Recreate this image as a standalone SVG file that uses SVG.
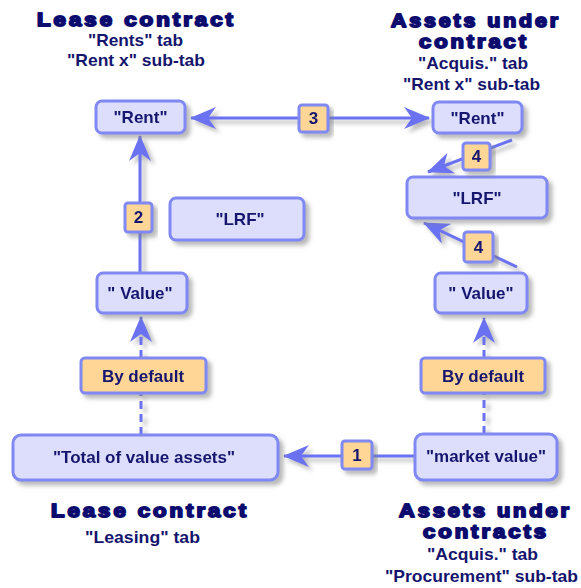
<svg xmlns="http://www.w3.org/2000/svg" width="581" height="588" viewBox="0 0 581 588">
<defs>
<filter id="sh" x="-20%" y="-30%" width="140%" height="170%">
<feGaussianBlur in="SourceAlpha" stdDeviation="2"/>
<feOffset dx="4" dy="4" result="b"/>
<feFlood flood-color="#808080" flood-opacity="0.55"/>
<feComposite in2="b" operator="in"/>
<feMerge><feMergeNode/><feMergeNode in="SourceGraphic"/></feMerge>
</filter>
<marker id="ah" markerUnits="userSpaceOnUse" viewBox="0 0 26 22" refX="25" refY="11" markerWidth="26" markerHeight="22" orient="auto-start-reverse">
<path d="M26,11 L0,0 L8,11 L0,22 Z" fill="#6a72f2"/>
</marker>
</defs>
<style>
.node rect{fill:#dcdefc;stroke:#8088f2;stroke-width:3;}
.lab rect{fill:#ffd696;stroke:#8088f2;stroke-width:3;}
.node text,.lab text{font-family:"Liberation Sans",Arial,sans-serif;font-weight:bold;font-size:17px;fill:#15156e;text-anchor:middle;}
.title{font-family:"Liberation Sans",Arial,sans-serif;font-weight:bold;font-size:18.5px;fill:#0c0c6e;stroke:#0c0c6e;stroke-width:1.8;stroke-linejoin:round;text-anchor:middle;letter-spacing:2.5px;}
.sub{font-family:"Liberation Sans",Arial,sans-serif;font-weight:bold;font-size:17px;fill:#15156e;text-anchor:middle;}
.c{fill:none;stroke:#6a72f2;stroke-width:3;}
.d{fill:none;stroke:#6a72f2;stroke-width:3;stroke-dasharray:8 5;}
</style>

<g id="titles">
<text class="title" x="136.5" y="26" textLength="199" lengthAdjust="spacingAndGlyphs">Lease contract</text>
<text class="sub" x="135.5" y="46" textLength="95" lengthAdjust="spacingAndGlyphs">"Rents" tab</text>
<text class="sub" x="136" y="66" textLength="138" lengthAdjust="spacingAndGlyphs">"Rent x" sub-tab</text>
<text class="title" x="476" y="27" textLength="170" lengthAdjust="spacingAndGlyphs">Assets under</text>
<text class="title" x="474" y="48" textLength="110" lengthAdjust="spacingAndGlyphs">contract</text>
<text class="sub" x="473" y="69" textLength="110" lengthAdjust="spacingAndGlyphs">"Acquis." tab</text>
<text class="sub" x="471.5" y="90" textLength="137" lengthAdjust="spacingAndGlyphs">"Rent x" sub-tab</text>
<text class="title" x="150" y="517" textLength="198" lengthAdjust="spacingAndGlyphs">Lease contract</text>
<text class="sub" x="142.5" y="543" textLength="115" lengthAdjust="spacingAndGlyphs">"Leasing" tab</text>
<text class="title" x="485.5" y="517" textLength="173" lengthAdjust="spacingAndGlyphs">Assets under</text>
<text class="title" x="486" y="538" textLength="126" lengthAdjust="spacingAndGlyphs">contracts</text>
<text class="sub" x="482.5" y="560" textLength="111" lengthAdjust="spacingAndGlyphs">"Acquis." tab</text>
<text class="sub" x="481.5" y="582" textLength="193" lengthAdjust="spacingAndGlyphs">"Procurement" sub-tab</text>
</g>

<g id="connectors" filter="url(#sh)">
<line class="c" x1="191" y1="118" x2="429" y2="118" marker-start="url(#ah)" marker-end="url(#ah)"/>
<line class="c" x1="140" y1="273" x2="140" y2="136" marker-end="url(#ah)"/>
<line class="c" x1="512" y1="140" x2="428" y2="172" marker-end="url(#ah)"/>
<line class="c" x1="517" y1="267" x2="424" y2="223" marker-end="url(#ah)"/>
<line class="d" x1="141" y1="358" x2="141" y2="317" marker-end="url(#ah)"/>
<line class="d" x1="141" y1="435" x2="141" y2="393"/>
<line class="d" x1="484" y1="358" x2="484" y2="318" marker-end="url(#ah)"/>
<line class="d" x1="484" y1="434" x2="484" y2="393"/>
<line class="c" x1="415" y1="456" x2="284" y2="456" marker-end="url(#ah)"/>
</g>

<g id="rent-left" class="node" filter="url(#sh)"><rect x="96" y="101" width="89" height="32" rx="6"/><text x="140.5" y="123">"Rent"</text></g>
<g id="rent-right" class="node" filter="url(#sh)"><rect x="433" y="102" width="89" height="31" rx="6"/><text x="477.5" y="124">"Rent"</text></g>
<g id="lrf-left" class="node" filter="url(#sh)"><rect x="170" y="198" width="134" height="42" rx="6"/><text x="240" y="225">"LRF"</text></g>
<g id="lrf-right" class="node" filter="url(#sh)"><rect x="407" y="177" width="140" height="41" rx="6"/><text x="477" y="204">"LRF"</text></g>
<g id="value-left" class="node" filter="url(#sh)"><rect x="97" y="273" width="90" height="40" rx="6"/><text x="140" y="299">" Value"</text></g>
<g id="value-right" class="node" filter="url(#sh)"><rect x="435" y="273" width="92" height="40" rx="6"/><text x="481" y="299">" Value"</text></g>
<g id="default-left" class="lab" filter="url(#sh)"><rect x="81" y="358" width="125" height="35" rx="4"/><text x="143" y="382">By default</text></g>
<g id="default-right" class="lab" filter="url(#sh)"><rect x="421" y="358" width="124" height="35" rx="4"/><text x="483" y="382">By default</text></g>
<g id="total" class="node" filter="url(#sh)"><rect x="13" y="435" width="265" height="45" rx="8"/><text x="144" y="463">"Total of value assets"</text></g>
<g id="market" class="node" filter="url(#sh)"><rect x="415" y="434" width="142" height="46" rx="8"/><text x="486" y="462">"market value"</text></g>

<g id="label-3" class="lab" filter="url(#sh)"><rect x="299" y="105" width="29" height="27" rx="3"/><text x="313.5" y="124">3</text></g>
<g id="label-2" class="lab" filter="url(#sh)"><rect x="125" y="203" width="27" height="29" rx="3"/><text x="138.5" y="223">2</text></g>
<g id="label-4a" class="lab" filter="url(#sh)"><rect x="463" y="143" width="27" height="27" rx="3"/><text x="476.5" y="162">4</text></g>
<g id="label-4b" class="lab" filter="url(#sh)"><rect x="464" y="232" width="29" height="30" rx="3"/><text x="478.5" y="253">4</text></g>
<g id="label-1" class="lab" filter="url(#sh)"><rect x="342" y="441" width="30" height="28" rx="3"/><text x="357" y="461">1</text></g>
</svg>
